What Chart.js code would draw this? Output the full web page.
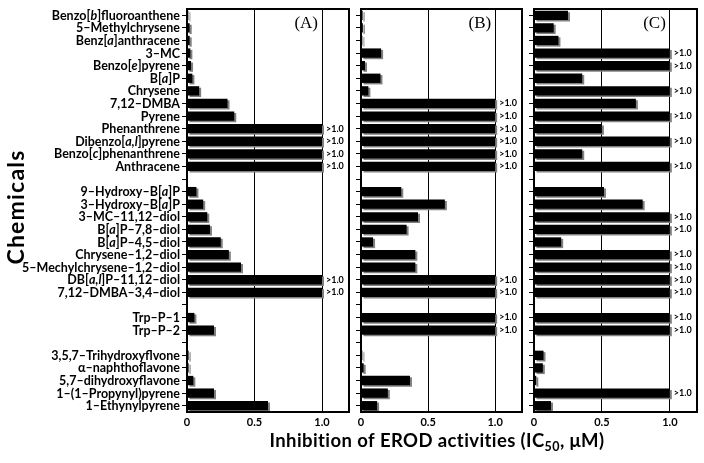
<!DOCTYPE html>
<html>
<head>
<meta charset="utf-8">
<script src="https://cdn.jsdelivr.net/npm/chart.js@4/dist/chart.umd.min.js"></script>
<style>
html, body { margin: 0; padding: 0; background: #fff; }
#wrap { position: relative; width: 704px; height: 463px; }
canvas { position: absolute; left: 0; top: 0; }
</style>
</head>
<body>
<div id="wrap">
  <canvas id="chartA" width="704" height="463"></canvas>
  <canvas id="chartB" width="704" height="463"></canvas>
  <canvas id="chartC" width="704" height="463"></canvas>
</div>
<script>
// words between * are drawn in italics, '' = blank row between groups
var chemicals = [
  'Benzo[*b*]fluoroanthene', '5–Methylchrysene', 'Benz[*a*]anthracene', '3–MC',
  'Benzo[*e*]pyrene', 'B[*a*]P', 'Chrysene', '7,12–DMBA', 'Pyrene', 'Phenanthrene',
  'Dibenzo[*a,l*]pyrene', 'Benzo[*c*]phenanthrene', 'Anthracene',
  '',
  '9–Hydroxy–B[*a*]P', '3–Hydroxy–B[*a*]P', '3–MC–11,12–diol', 'B[*a*]P–7,8–diol',
  'B[*a*]P–4,5–diol', 'Chrysene–1,2–diol', '5–Mechylchrysene–1,2–diol',
  'DB[*a,l*]P–11,12–diol', '7,12–DMBA–3,4–diol',
  '',
  'Trp–P–1', 'Trp–P–2',
  '',
  '3,5,7–Trihydroxyflvone', 'α–naphthoflavone', '5,7–dihydroxyflavone',
  '1–(1–Propynyl)pyrene', '1–Ethynylpyrene'
];

// IC50 (uM); 1.0 = ">1.0"
var valuesA = [
  0.01, 0.02, 0.02, 0.025, 0.03, 0.04, 0.09, 0.30, 0.35, 1.0, 1.0, 1.0, 1.0,
  null,
  0.07, 0.12, 0.15, 0.17, 0.25, 0.31, 0.40, 1.0, 1.0,
  null,
  0.055, 0.20,
  null,
  0.012, 0.012, 0.047, 0.20, 0.60
];
var valuesB = [
  0.012, 0.014, 0.01, 0.15, 0.03, 0.145, 0.055, 1.0, 1.0, 1.0, 1.0, 1.0, 1.0,
  null,
  0.30, 0.625, 0.425, 0.34, 0.09, 0.405, 0.405, 1.0, 1.0,
  null,
  1.0, 1.0,
  null,
  0.01, 0.02, 0.365, 0.20, 0.12
];
var valuesC = [
  0.25, 0.145, 0.18, 1.0, 1.0, 0.355, 1.0, 0.75, 1.0, 0.5, 1.0, 0.355, 1.0,
  null,
  0.515, 0.80, 1.0, 1.0, 0.20, 1.0, 1.0, 1.0, 1.0,
  null,
  1.0, 1.0,
  null,
  0.07, 0.065, 0.017, 1.0, 0.125
];
var xTicks = [0, 0.5, 1.0];
var overLabel = '>1.0';

var sans = 'Lato';

// grey drop shadow under the bars
var shadowPlugin = {
  id: 'shadow',
  beforeDatasetsDraw: function(chart) {
    var ctx = chart.ctx;
    ctx.save();
    ctx.shadowColor = '#808080';
    ctx.shadowOffsetX = 2;
    ctx.shadowOffsetY = 1.5;
    ctx.shadowBlur = 0;
  },
  afterDatasetsDraw: function(chart) {
    chart.ctx.restore();
  }
};

// frame, ">1.0" marks and (A)/(B)/(C)
var boxPlugin = {
  id: 'box',
  afterDraw: function(chart, args, opts) {
    var ctx = chart.ctx, a = chart.chartArea;
    var xs = chart.scales.x, ys = chart.scales.y;
    var vals = chart.data.datasets[0].data;
    ctx.save();
    ctx.fillStyle = '#000';
    ctx.font = 'bold 9px ' + sans;
    ctx.textBaseline = 'middle';
    vals.forEach(function(v, i) {
      if (v !== null && v >= 1) {
        ctx.fillText(overLabel, xs.getPixelForValue(1) + 4, ys.getPixelForValue(i));
      }
    });
    ctx.strokeStyle = '#000';
    ctx.lineWidth = 2;
    ctx.strokeRect(a.left, a.top, a.right - a.left, a.bottom - a.top);
    ctx.font = '17px "Liberation Serif"';
    ctx.textAlign = 'right';
    ctx.textBaseline = 'alphabetic';
    ctx.fillText(opts.tag, xs.getPixelForValue(1) - 4, a.top + 19);
    ctx.restore();
  }
};

function drawRich(ctx, text, xRight, y) {
  var parts = text.split('*');
  var widths = [], total = 0;
  parts.forEach(function(p, k) {
    ctx.font = (k % 2 ? 'italic ' : '') + 'bold 12.5px ' + sans;
    var w = ctx.measureText(p).width;
    widths.push(w);
    total += w;
  });
  var x = xRight - total;
  parts.forEach(function(p, k) {
    ctx.font = (k % 2 ? 'italic ' : '') + 'bold 12.5px ' + sans;
    ctx.fillText(p, x, y);
    x += widths[k];
  });
}

// category names and both axis titles (only on panel A)
var labelPlugin = {
  id: 'names',
  afterDraw: function(chart) {
    var ctx = chart.ctx, a = chart.chartArea;
    var ys = chart.scales.y;
    ctx.save();
    ctx.fillStyle = '#000';
    ctx.textBaseline = 'middle';
    ctx.textAlign = 'left';
    chemicals.forEach(function(name, i) {
      if (name) drawRich(ctx, name, a.left - 7, ys.getPixelForValue(i) + 0.5);
    });

    ctx.save();
    ctx.translate(17, 207);
    ctx.rotate(-Math.PI / 2);
    ctx.textAlign = 'center';
    ctx.font = 'bold 23px ' + sans;
    ctx.letterSpacing = '1.2px';
    ctx.fillText('Chemicals', 0, 0);
    ctx.restore();

    // x title with subscript
    ctx.textBaseline = 'alphabetic';
    ctx.letterSpacing = '0.4px';
    var t1 = 'Inhibition of EROD activities (IC', t2 = '50', t3 = ', μM)';
    ctx.font = 'bold 18.5px ' + sans;
    var w1 = ctx.measureText(t1).width, w3 = ctx.measureText(t3).width;
    ctx.font = 'bold 12.5px ' + sans;
    var w2 = ctx.measureText(t2).width;
    var x = 437 - (w1 + w2 + w3) / 2, base = 447;
    ctx.font = 'bold 18.5px ' + sans;
    ctx.fillText(t1, x, base);
    ctx.font = 'bold 12.5px ' + sans;
    ctx.fillText(t2, x + w1, base + 4);
    ctx.font = 'bold 18.5px ' + sans;
    ctx.fillText(t3, x + w1 + w2, base);
    ctx.restore();
  }
};

function makePanel(id, values, tag, padLeft, axisW, padRight, extra) {
  var plugins = [shadowPlugin, boxPlugin];
  if (extra) plugins.push(extra);
  return new Chart(document.getElementById(id), {
    type: 'bar',
    data: {
      labels: chemicals,
      datasets: [{
        data: values,
        backgroundColor: '#000',
        borderWidth: 0,
        categoryPercentage: 1,
        barPercentage: 0.74
      }]
    },
    options: {
      indexAxis: 'y',
      responsive: false,
      animation: false,
      layout: { padding: { left: padLeft, right: padRight, top: 9, bottom: 0 } },
      plugins: {
        legend: { display: false },
        tooltip: { enabled: false },
        box: { tag: tag }
      },
      scales: {
        x: {
          min: 0,
          max: 1.2,
          afterBuildTicks: function(s) {
            s.ticks = xTicks.map(function(v) { return { value: v }; });
          },
          grid: {
            drawTicks: false,
            lineWidth: 1,
            color: function(c) {
              return c.tick && c.tick.value === 0 ? 'rgba(0,0,0,0)' : '#000';
            }
          },
          border: { display: false },
          ticks: {
            padding: 4,
            color: '#000',
            font: { family: sans, weight: 'bold', size: 11 },
            callback: function(v) { return v === 0 ? '0' : v.toFixed(1); }
          },
          afterFit: function(s) { s.height = 51; }
        },
        y: {
          grid: { drawOnChartArea: false, offset: false, tickLength: 5, color: '#000', lineWidth: 1 },
          border: { display: false },
          ticks: { display: false },
          afterFit: function(s) { s.width = axisW; }
        }
      }
    },
    plugins: plugins
  });
}

makePanel('chartA', valuesA, '(A)', 0, 187, 355, labelPlugin);
makePanel('chartB', valuesB, '(B)', 355, 6, 182);
makePanel('chartC', valuesC, '(C)', 528, 6, 7);
</script>
</body>
</html>
